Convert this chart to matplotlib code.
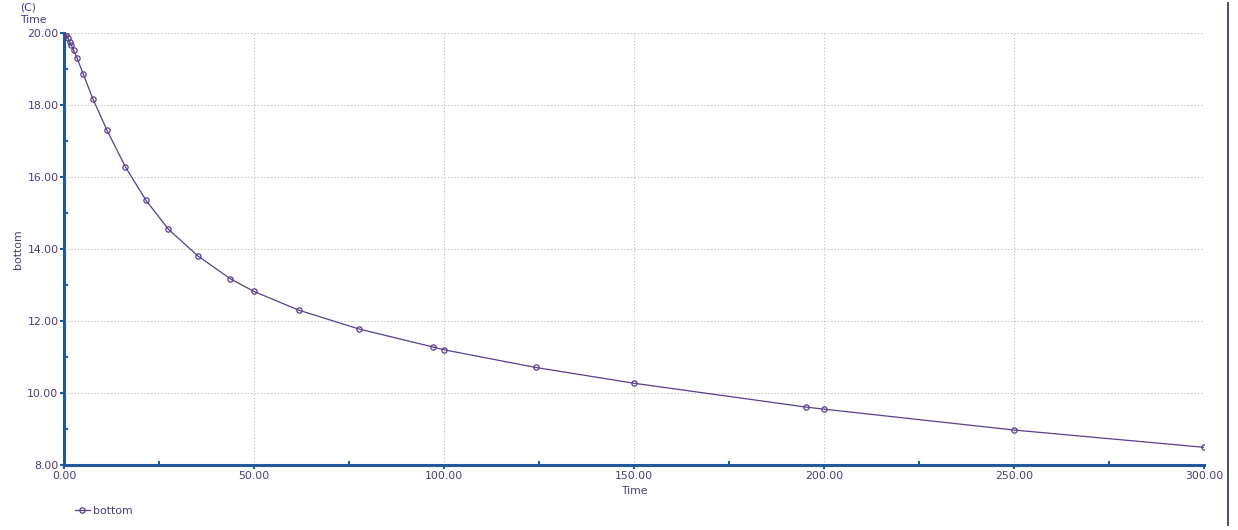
import matplotlib
matplotlib.use("Agg")
import matplotlib.pyplot as plt
from matplotlib.ticker import MultipleLocator, FormatStrFormatter
from matplotlib.lines import Line2D

time = [0.0, 0.63, 1.05, 1.5, 1.95, 2.55, 3.42, 5.1, 7.63, 11.3, 16.16, 21.58, 27.47,
        35.18, 43.8, 50.0, 61.8, 77.5, 97.0, 100.0, 124.05, 150.0, 195.1, 200.0,
        250.0, 300.0]
bottom = [20.0, 19.95, 19.86, 19.76, 19.67, 19.53, 19.32, 18.86, 18.175, 17.31, 16.29,
          15.36, 14.56, 13.82, 13.18, 12.83, 12.31, 11.79, 11.29, 11.21, 10.72, 10.28,
          9.62, 9.56, 8.98, 8.50]

series_name = "bottom"
line_color = "#5b3d8a"
axis_color = "#1f5a9e"
text_color = "#4b3a78"

fig = plt.figure(figsize=(12.38, 5.30), dpi=100)
ax = fig.add_axes([0.0517, 0.122, 0.9211, 0.815])

ax.plot(time, bottom, color=line_color, lw=0.9, marker='o', ms=3.8,
        mfc='none', mec=line_color, mew=0.9, zorder=3)

ax.set_xlim(0, 300)
ax.set_ylim(8, 20)
ax.xaxis.set_major_locator(MultipleLocator(50))
ax.xaxis.set_minor_locator(MultipleLocator(25))
ax.yaxis.set_major_locator(MultipleLocator(2))
ax.yaxis.set_minor_locator(MultipleLocator(1))
ax.xaxis.set_major_formatter(FormatStrFormatter('%.2f'))
ax.yaxis.set_major_formatter(FormatStrFormatter('%.2f'))

for s in ['top', 'right']:
    ax.spines[s].set_visible(False)
for s in ['left', 'bottom']:
    ax.spines[s].set_color(axis_color)
    ax.spines[s].set_linewidth(2.2)

ax.tick_params(which='major', direction='out', length=3, width=1.5, color=axis_color,
               labelsize=7.8, labelcolor=text_color, pad=1)
ax.tick_params(which='minor', direction='in', length=3, width=1.5, color=axis_color)

ax.grid(True, which='major', color='#c4c4c4', linestyle=(0, (1.2, 1.8)), linewidth=0.8)
ax.set_axisbelow(True)

ax.set_xlabel("Time", fontsize=7.8, color=text_color, labelpad=4)
ax.set_ylabel("bottom", fontsize=7.8, color=text_color)
ax.yaxis.set_label_coords(-0.036, 0.5)

fig.text(0.016, 0.985, "(C)", fontsize=7.8, color=text_color, va='center', ha='left')
fig.text(0.016, 0.963, "Time", fontsize=7.8, color=text_color, va='center', ha='left')

# legend
handle = Line2D([], [], color=line_color, lw=0.9, marker='o', ms=3.8, mfc='none',
                mec=line_color, mew=0.9)
fig.legend([handle], [series_name], loc='center left', bbox_to_anchor=(0.057, 0.036),
           frameon=False, fontsize=7.8, labelcolor=text_color, handlelength=1.4,
           handletextpad=0.3, borderaxespad=0)

# right border line
fig.add_artist(Line2D([0.992, 0.992], [0.01, 0.995], transform=fig.transFigure,
                      color="#3a3a7a", lw=1.3))

fig.savefig("out.png", dpi=100)
